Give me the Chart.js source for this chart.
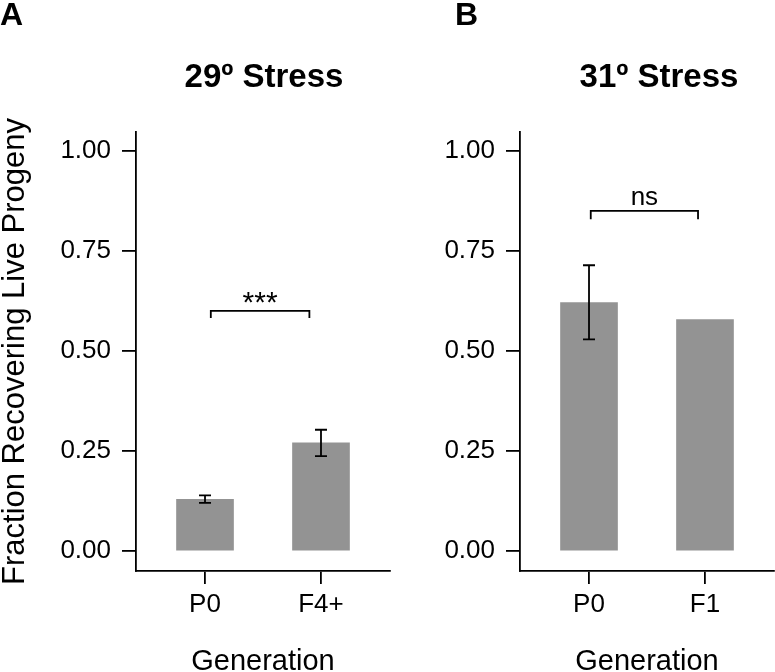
<!DOCTYPE html>
<html>
<head>
<meta charset="utf-8">
<script src="https://cdn.jsdelivr.net/npm/chart.js@4.4.0/dist/chart.umd.min.js"></script>
<style>
  body { margin: 0; background: #fff; }
  #wrap { position: relative; width: 775px; height: 672px; }
  #chartA { position: absolute; left: 0; top: 0; }
  #chartB { position: absolute; left: 400px; top: 0; }
</style>
</head>
<body>
<div id="wrap">
  <canvas id="chartA" width="400" height="672"></canvas>
  <canvas id="chartB" width="375" height="672"></canvas>
</div>
<script>
// panel A - 29º stress
const labelsA = ['P0', 'F4+'];
const valuesA = [0.129, 0.270];
const errLowA = [0.120, 0.237];
const errHighA = [0.139, 0.303];

// panel B - 31º stress (F1 has no error bar)
const labelsB = ['P0', 'F1'];
const valuesB = [0.621, 0.578];
const errLowB = [0.529, null];
const errHighB = [0.714, null];

const yTicks = [0, 0.25, 0.5, 0.75, 1];

// significance brackets
const bracketA = { from: 0.05, to: 0.90, top: 0.600, leg: 0.582, text: '***', textY: 0.597 };
const bracketB = { from: 0.015, to: 0.94, top: 0.850, leg: 0.829, text: 'ns', textY: 0.864 };

const FONT = '"Liberation Sans", Arial, Helvetica, sans-serif';
Chart.defaults.font.family = FONT;
Chart.defaults.color = '#000';

// error bars, bracket, panel letter and title
const extras = {
    id: 'extras',
    afterDatasetsDraw: function (chart, args, opts) {
        const ctx = chart.ctx;
        const x = chart.scales.x;
        const y = chart.scales.y;
        ctx.save();
        ctx.strokeStyle = '#000';
        ctx.lineWidth = 1.8;
        opts.low.forEach(function (lo, i) {
            if (lo === null) return;
            const px = x.getPixelForValue(i);
            const y1 = y.getPixelForValue(lo);
            const y2 = y.getPixelForValue(opts.high[i]);
            ctx.beginPath();
            ctx.moveTo(px, y1); ctx.lineTo(px, y2);
            ctx.moveTo(px - 6, y1); ctx.lineTo(px + 6, y1);
            ctx.moveTo(px - 6, y2); ctx.lineTo(px + 6, y2);
            ctx.stroke();
        });

        const b = opts.bracket;
        const bx1 = x.getPixelForValue(b.from);
        const bx2 = x.getPixelForValue(b.to);
        const by = y.getPixelForValue(b.top);
        const bl = y.getPixelForValue(b.leg);
        ctx.beginPath();
        ctx.moveTo(bx1, bl); ctx.lineTo(bx1, by); ctx.lineTo(bx2, by); ctx.lineTo(bx2, bl);
        ctx.stroke();

        ctx.fillStyle = '#000';
        ctx.textAlign = 'center';
        ctx.textBaseline = 'alphabetic';
        ctx.font = opts.bracketFont;
        ctx.fillText(b.text, (bx1 + bx2) / 2, y.getPixelForValue(b.textY));

        ctx.textAlign = 'left';
        ctx.font = 'bold 32px ' + FONT;
        ctx.fillText(opts.letter, opts.letterX, 25);

        ctx.textAlign = 'center';
        ctx.font = 'bold 33px ' + FONT;
        ctx.fillText(opts.title, opts.titleX, 87);
        ctx.restore();
    }
};

function makeChart(id, labels, values, low, high, cfg) {
    new Chart(document.getElementById(id), {
        type: 'bar',
        data: {
            datasets: [{
                data: values.map(function (v, i) { return { x: i, y: v }; }),
                backgroundColor: '#939393',
                borderWidth: 0,
                barThickness: 57
            }]
        },
        options: {
            responsive: false,
            animation: false,
            layout: { padding: { top: 132, right: cfg.rightPad, left: 0, bottom: 0 } },
            plugins: {
                legend: { display: false },
                tooltip: { enabled: false },
                extras: {
                    low: low, high: high, bracket: cfg.bracket, bracketFont: cfg.bracketFont,
                    letter: cfg.letter, letterX: cfg.letterX, title: cfg.title, titleX: cfg.titleX
                }
            },
            scales: {
                x: {
                    type: 'linear',
                    min: -0.595,
                    max: 1.595,
                    offset: false,
                    afterBuildTicks: function (s) { s.ticks = labels.map(function (l, i) { return { value: i }; }); },
                    afterFit: function (s) { s.height = 101; },
                    border: { color: '#000', width: 1.8 },
                    grid: { offset: false, drawOnChartArea: false, color: '#000', lineWidth: 1.8, tickLength: 13 },
                    ticks: {
                        color: '#000', padding: 5, maxRotation: 0, autoSkip: false,
                        font: { size: 26 },
                        callback: function (v) { return labels[v]; }
                    },
                    title: {
                        display: true, text: 'Generation', color: '#000',
                        font: { size: 29, lineHeight: 0.7 }, padding: 0
                    }
                },
                y: {
                    min: -0.05,
                    max: 1.047,
                    afterBuildTicks: function (s) { s.ticks = yTicks.map(function (v) { return { value: v }; }); },
                    afterFit: function (s) { s.width = cfg.yWidth; },
                    border: { color: '#000', width: 1.8 },
                    grid: { drawOnChartArea: false, color: '#000', lineWidth: 1.8, tickLength: 14 },
                    ticks: {
                        color: '#000', padding: 11,
                        font: { size: 26 },
                        callback: function (v) { return v.toFixed(2); }
                    },
                    title: {
                        display: cfg.yTitle, text: 'Fraction Recovering Live Progeny', color: '#000',
                        font: { size: 31, lineHeight: 1 }, padding: 0
                    }
                }
            }
        },
        plugins: [extras]
    });
}

makeChart('chartA', labelsA, valuesA, errLowA, errHighA, {
    rightPad: 10, yWidth: 136, yTitle: true,
    bracket: bracketA, bracketFont: '30px ' + FONT,
    letter: 'A', letterX: 0, title: '29º Stress', titleX: 264
});

makeChart('chartB', labelsB, valuesB, errLowB, errHighB, {
    rightPad: 1, yWidth: 120, yTitle: false,
    bracket: bracketB, bracketFont: '26px ' + FONT,
    letter: 'B', letterX: 55, title: '31º Stress', titleX: 259
});
</script>
</body>
</html>
